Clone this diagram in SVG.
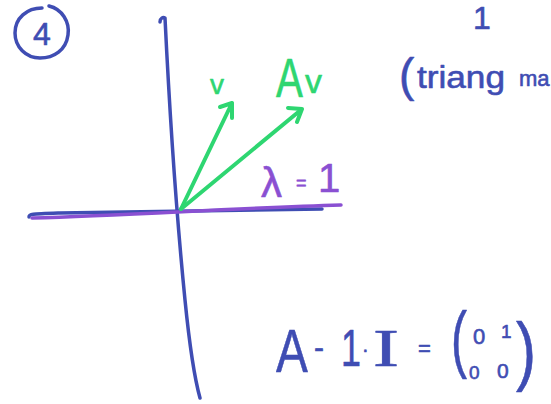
<svg xmlns="http://www.w3.org/2000/svg" width="551" height="404" viewBox="0 0 551 404">
<defs>
<style>
.ink{fill:none;stroke-linecap:round;stroke-linejoin:round}
.blue{stroke:#3f4db3}
.green{stroke:#2ed671}
.purple{stroke:#8a50d2}
.t{font-family:"Liberation Sans",Arial,sans-serif;stroke-width:0.6;stroke-linejoin:round}
.tb{fill:#3f4db3;stroke:#3f4db3}
.tg{fill:#2ed671;stroke:#2ed671}
.tp{fill:#8a50d2;stroke:#8a50d2}
</style>
</defs>
<rect width="551" height="404" fill="#ffffff"/>
<g id="label-circle4">
<path class="ink blue" stroke-width="3.5" d="M49,6 C62,9 70,22 68,35 C66,50 54,58 40,58 C26,58 15,47 15,33 C15,18 27,8 42,8"/>
<text class="t tb" x="42" y="45" font-size="32" text-anchor="middle">4</text>
</g>
<g id="axes">
<path class="ink blue" stroke-width="3.5" d="M160,22 C160,18 163,17 165,18 C170,120 178,230 185,300 C190,350 195,380 200,398"/>
<path class="ink blue" stroke-width="3.5" d="M29,217 C29,214 31,214 60,213 C150,211 240,210 322,209"/>
<path class="ink purple" stroke-width="3.5" d="M32,218 C130,215 240,208 341,205"/>
</g>
<g id="connectors">
<path class="ink green" stroke-width="4" d="M181,209 L232,103 M220,107 L232,103 L232,118"/>
<path class="ink green" stroke-width="4" d="M181,209 L302,109 M288,108 L302,109 L297,122"/>
</g>
<g id="label-v">
<text class="t tg" x="210" y="94" font-size="28">v</text>
</g>
<g id="label-Av">
<text class="t tg" transform="translate(276,97) scale(0.72,1)" font-size="56">A</text>
<text class="t tg" x="305" y="93" font-size="34">v</text>
</g>
<g id="label-lambda">
<text class="t tp" x="261" y="197" font-size="42">λ</text>
<text class="t tp" x="296" y="189" font-size="18">=</text>
<text class="t tp" x="318" y="192" font-size="40">1</text>
</g>
<g id="label-top-right">
<text class="t tb" x="482" y="29" font-size="32" text-anchor="middle">1</text>
<text class="t tb" x="399" y="91" font-size="46">(</text>
<text class="t tb" x="417" y="88" font-size="32" textLength="88" lengthAdjust="spacingAndGlyphs">triang</text>
<text class="t tb" x="519" y="86" font-size="22">ma</text>
</g>
<g id="formula">
<text class="t tb" transform="translate(276,372) scale(0.77,1)" font-size="62">A</text>
<text class="t tb" x="314" y="358" font-size="30">-</text>
<text class="t tb" transform="translate(341,366) scale(0.69,1)" font-size="52">1</text>
<text class="t tb" x="362" y="356" font-size="20">·</text>
<text class="t tb" transform="translate(373,366) scale(1.5,1)" font-size="52" style="font-family:'Liberation Serif',serif">I</text>
<text class="t tb" x="418" y="356" font-size="22">=</text>
<text class="t tb" transform="translate(451,364) scale(0.65,1)" font-size="74">(</text>
<text class="t tb" x="473" y="344" font-size="22">0</text>
<text class="t tb" x="501" y="338" font-size="19">1</text>
<text class="t tb" x="469" y="379" font-size="19">0</text>
<text class="t tb" x="497" y="378" font-size="21">0</text>
<text class="t tb" transform="translate(516,376) scale(0.79,1)" font-size="76">)</text>
</g>
</svg>
